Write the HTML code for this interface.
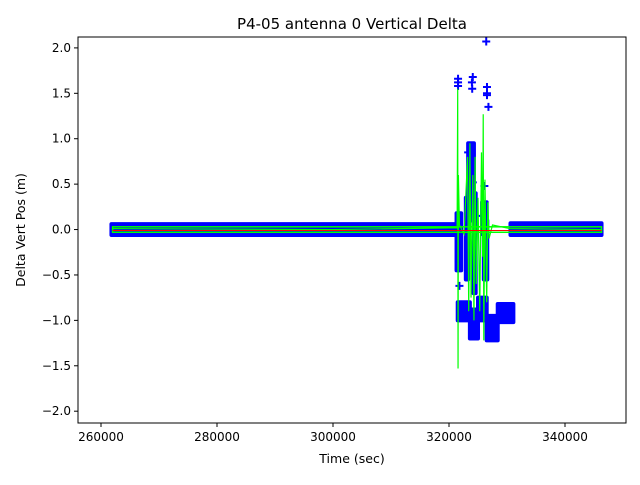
<!DOCTYPE html>
<html><head><meta charset="utf-8"><style>
body{margin:0;background:#fff;font-family:"Liberation Sans","DejaVu Sans",sans-serif}
svg text{font-family:"DejaVu Sans","Liberation Sans",sans-serif;fill:#000}
</style></head><body>
<svg id="chart" width="640" height="480" viewBox="0 0 640 480" xmlns="http://www.w3.org/2000/svg">
<rect width="640" height="480" fill="#fff"/>
<text x="352" y="29" font-size="15" text-anchor="middle">P4-05 antenna 0 Vertical Delta</text>
<g id="plot"></g>
<g id="axes"></g>
<text x="352" y="463" font-size="12.5" text-anchor="middle">Time (sec)</text>
<text transform="translate(25,230) rotate(-90)" font-size="12.5" text-anchor="middle">Delta Vert Pos (m)</text>
</svg>
<script>
// ---- data ----
const xTicks = [260000, 280000, 300000, 320000, 340000];
const yTicks = [-2.0, -1.5, -1.0, -0.5, 0.0, 0.5, 1.0, 1.5, 2.0];
// blue marker regions: [tStart, tEnd, vLow, vHigh]
const blueBandT0 = [261800, 330600, 321300, 322900, 323300, 324200, 325700, 326000, 321500, 323600, 325000, 326500, 328400];
const blueBandT1 = [321800, 346300, 322100, 323300, 324300, 324600, 326500, 326600, 323600, 325000, 326500, 328400, 331100];
const blueBandLo = [-0.06, -0.06, -0.45, -0.55, 0.10, -0.70, -0.05, -0.55, -1.00, -1.20, -1.00, -1.22, -1.02];
const blueBandHi = [0.06, 0.07, 0.18, 0.35, 0.95, 0.40, 0.30, 0.10, -0.80, -0.88, -0.75, -0.95, -0.82];
// individual blue "+" markers
const crossT = [321560, 321560, 321560, 323950, 324100, 324000, 326550, 326550, 326550, 326420, 326800, 321800, 321700, 323300, 323700, 324100, 325700, 326100];
const crossV = [1.62, 1.66, 1.58, 1.62, 1.68, 1.55, 1.57, 1.50, 1.48, 2.07, 1.35, -0.62, -0.35, 0.85, 0.75, 0.52, 0.15, 0.48];
// green line
const greenT = [262000, 300000, 321400, 321500, 321560, 321620, 321800, 322600, 323200, 323400, 323600, 323800, 324100, 324300, 324500, 324700, 325000, 325300, 325600, 325800, 325900, 326000, 326200, 326500, 326700, 326900, 327500, 330500, 346300];
const greenV = [0.01, 0.0, 0.02, 1.55, -1.53, 0.60, 0.05, -0.05, 0.80, -0.90, 0.95, -0.75, 0.60, -1.0, 0.80, -0.6, 0.35, -0.9, 0.85, -0.3, 1.27, -1.22, 0.55, -0.8, 0.30, -0.1, 0.05, 0.01, 0.0];
const redT = [262000, 346300];
const redV = [-0.01, -0.01];
// ---- scales ----
const L=78,R=626,T=37,B=423, X0=256034, X1=350517, Y0=-2.13, Y1=2.12;
const sx=t=>L+(t-X0)/(X1-X0)*(R-L);
const sy=v=>B-(v-Y0)/(Y1-Y0)*(B-T);
const NS="http://www.w3.org/2000/svg";
const plot=document.getElementById('plot'), axes=document.getElementById('axes');
function mk(tag,attrs,parent){const e=document.createElementNS(NS,tag);for(const k in attrs)e.setAttribute(k,attrs[k]);parent.appendChild(e);return e;}
const clip=mk('clipPath',{id:'c'},plot);mk('rect',{x:L,y:T,width:R-L,height:B-T},clip);
const g=mk('g',{'clip-path':'url(#c)'},plot);
for(let i=0;i<blueBandT0.length;i++){
  const x0=sx(blueBandT0[i]),x1=sx(blueBandT1[i]),y0=sy(blueBandHi[i]),y1=sy(blueBandLo[i]);
  const r=mk('rect',{x:x0-2,y:y0-2,width:x1-x0+4,height:y1-y0+4,rx:2,fill:'#0000ff'},g);
  
  
}
for(let i=0;i<crossT.length;i++){
  const x=sx(crossT[i]),y=sy(crossV[i]);
  const p=mk('path',{d:`M${x-4},${y}H${x+4}M${x},${y-4}V${y+4}`,stroke:'#0000ff','stroke-width':2,fill:'none'},g);
  
  
}
const gl=mk('polyline',{points:greenT.map((t,i)=>sx(t)+','+sy(greenV[i])).join(' '),fill:'none',stroke:'#00ff00','stroke-width':1.2},g);


const gb=mk('rect',{x:sx(262000),y:sy(0.03),width:sx(346300)-sx(262000),height:sy(-0.03)-sy(0.03),fill:'none',stroke:'#00ff00','stroke-width':1.5},g);


const rl=mk('polyline',{points:redT.map((t,i)=>sx(t)+','+sy(redV[i])).join(' '),fill:'none',stroke:'#ff0000','stroke-width':1},g);


// axes frame
const fr=mk('rect',{x:L,y:T,width:R-L,height:B-T,fill:'none',stroke:'#000','stroke-width':1},axes);


xTicks.forEach(t=>{const x=sx(t);mk('line',{x1:x,x2:x,y1:B,y2:B+4,stroke:'#000'},axes);
  const tx=mk('text',{x:x,y:B+18,'font-size':12,'text-anchor':'middle'},axes);tx.textContent=t;
  
  });
yTicks.forEach(v=>{const y=sy(v);mk('line',{x1:L-4,x2:L,y1:y,y2:y,stroke:'#000'},axes);
  const tx=mk('text',{x:L-7,y:y+4,'font-size':12,'text-anchor':'end'},axes);tx.textContent=(v<0?'\u2212':'')+Math.abs(v).toFixed(1);
  
  });
</script>
</body></html>
